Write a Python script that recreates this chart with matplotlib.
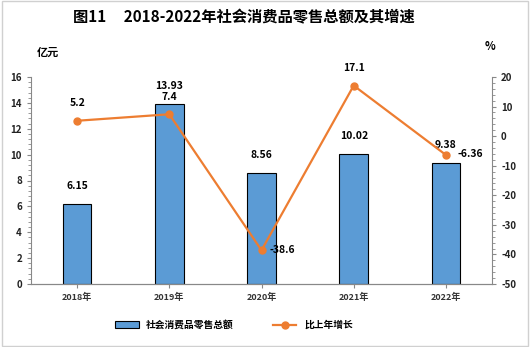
import matplotlib.pyplot as plt
from matplotlib.ticker import MultipleLocator
from matplotlib.lines import Line2D
from matplotlib.patches import Patch, Rectangle

plt.rcParams['font.family'] = ['Noto Sans CJK SC', 'DejaVu Sans']
plt.rcParams['axes.unicode_minus'] = False

years = ['2018年', '2019年', '2020年', '2021年', '2022年']
retail = [6.15, 13.93, 8.56, 10.02, 9.38]       # 亿元
growth = [5.2, 7.4, -38.6, 17.1, -6.36]         # %

bar_color = '#5B9BD5'
line_color = '#ED7D31'
axis_gray = '#888888'

fig = plt.figure(figsize=(5.3, 3.47), dpi=100)
ax = fig.add_axes([31 / 530, 1 - 284 / 347, (492 - 31) / 530, (284 - 77) / 347])
ax2 = ax.twinx()

x = range(len(years))
ax.bar(x, retail, width=0.31, color=bar_color, edgecolor='black', linewidth=0.8, zorder=2)
ax.set_xlim(-0.5, len(years) - 0.5)
ax.set_ylim(0, 16)
ax.set_xticks(list(x))
ax.set_xticklabels(years, fontsize=6.5, fontweight='bold', color='#333333')
ax.yaxis.set_major_locator(MultipleLocator(2))
ax.yaxis.set_minor_locator(MultipleLocator(0.4))

ax2.plot(x, growth, color=line_color, linewidth=1.6, marker='o', markersize=5, zorder=3)
ax2.set_ylim(-50, 20)
ax2.yaxis.set_major_locator(MultipleLocator(10))
ax2.yaxis.set_minor_locator(MultipleLocator(2))

for a in (ax, ax2):
    a.spines['top'].set_visible(False)
    a.spines['left'].set_color(axis_gray)
    a.spines['right'].set_color(axis_gray)
    a.spines['bottom'].set_color(axis_gray)
    a.tick_params(axis='y', labelsize=7, colors=axis_gray, labelcolor='#222222',
                  width=0.8, length=3)
    a.tick_params(axis='y', which='minor', colors=axis_gray, length=2, width=0.6)
    a.tick_params(axis='x', colors=axis_gray, labelcolor='#333333', length=3)
    for lbl in a.get_yticklabels():
        lbl.set_fontweight('bold')
ax.spines['right'].set_visible(False)
ax2.spines['left'].set_visible(False)

# 数值标签：柱顶
for i, v in enumerate(retail):
    ax.text(i, v + 1.0, f'{v:g}', ha='center', va='bottom', fontsize=7.5, fontweight='bold')

# 数值标签：增速
offsets = [(0, 9), (0, 9), (6, 0), (0, 9), (8, 1)]
for i, v in enumerate(growth):
    dx, dy = offsets[i]
    ha = 'center' if dx == 0 else 'left'
    ax2.annotate(f'{v:g}', (i, v), xytext=(dx, dy), textcoords='offset points',
                 ha=ha, va='bottom' if dy > 2 else 'center', fontsize=7.5, fontweight='bold')

fig.text(0.46, 1 - 17 / 347, '图11     2018-2022年社会消费品零售总额及其增速',
         ha='center', va='center', fontsize=11, fontweight='bold')
fig.text(48 / 530, 1 - 52 / 347, '亿元', ha='center', va='center', fontsize=8, fontweight='bold')
fig.text(490 / 530, 1 - 46 / 347, '%', ha='center', va='center', fontsize=8, fontweight='bold')

handles = [Patch(facecolor=bar_color, edgecolor='black', linewidth=0.8),
           Line2D([0], [0], color=line_color, linewidth=1.6, marker='o', markersize=5)]
fig.legend(handles, ['社会消费品零售总额', '比上年增长'], loc='center',
           bbox_to_anchor=(234 / 530, 1 - 325 / 347), ncol=2, frameon=False,
           prop={'size': 7, 'weight': 'bold'}, columnspacing=4, handlelength=2.4)

fig.patches.append(Rectangle((0.003, 0.004), 0.994, 0.992, transform=fig.transFigure,
                             fill=False, edgecolor='#d0d0d0', linewidth=1))

fig.savefig('out.png', dpi=100, facecolor='white')
